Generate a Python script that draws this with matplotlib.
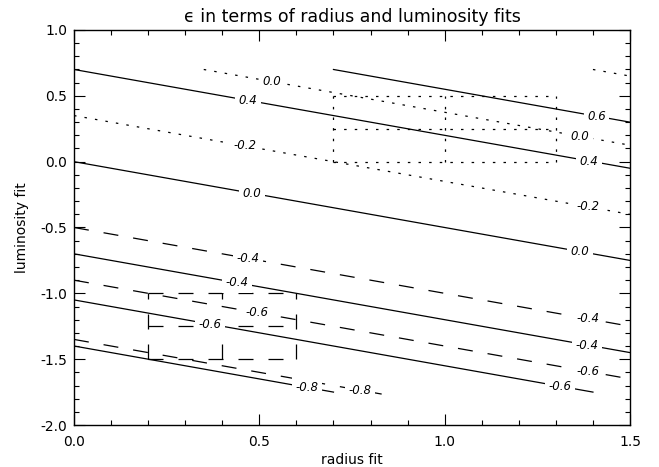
import matplotlib
matplotlib.use('Agg')
import matplotlib.pyplot as plt
from matplotlib.ticker import MultipleLocator

# contour segments (start point, end point, label positions along x)
solid_levels = ['0.6', '0.4', '0.0', '-0.4', '-0.6', '-0.8']
solid_x0 = [0.70, 0.0, 0.0, 0.0, 0.0, 0.0]
solid_y0 = [0.70, 0.70, 0.0, -0.70, -1.05, -1.40]
solid_x1 = [1.5, 1.5, 1.5, 1.5, 1.40, 0.70]
solid_y1 = [0.30, -0.05, -0.75, -1.45, -1.75, -1.75]
solid_label_x = [[1.41], [0.47, 1.39], [0.48, 1.365], [0.44, 1.385], [0.367, 1.31], [0.628]]

dashed_levels = ['-0.4', '-0.6', '-0.8']
dashed_x0 = [0.0, 0.0, 0.0]
dashed_y0 = [-0.50, -0.90, -1.35]
dashed_x1 = [1.5, 1.5, 0.83]
dashed_y1 = [-1.25, -1.65, -1.765]
dashed_label_x = [[0.47, 1.387], [0.493, 1.387], [0.771]]

dotted_levels = ['0.0', '-0.2', '']
dotted_x0 = [0.35, 0.0, 1.40]
dotted_y0 = [0.70, 0.35, 0.70]
dotted_x1 = [1.5, 1.5, 1.5]
dotted_y1 = [0.125, -0.40, 0.65]
dotted_label_x = [[0.533, 1.365], [0.461, 1.387], []]

# the two boxes split into 2x2 cells
dotted_box_x = [0.7, 1.0, 1.3]
dotted_box_y = [0.0, 0.25, 0.5]
dashed_box_x = [0.2, 0.4, 0.6]
dashed_box_y = [-1.5, -1.25, -1.0]

DASHED = (0, (12, 12))
DOTTED = (0, (2, 6.5))

fig = plt.figure(figsize=(6.59, 4.67), dpi=100)
ax = fig.add_axes([0.1123, 0.0899, 0.8437, 0.8459])


def draw_family(levels, x0s, y0s, x1s, y1s, label_xs, ls):
    for lev, x0, y0, x1, y1, lxs in zip(levels, x0s, y0s, x1s, y1s, label_xs):
        ax.plot([x0, x1], [y0, y1], color='black', lw=0.9, linestyle=ls, zorder=2)
        for lx in lxs:
            ly = y0 + (lx - x0) * (y1 - y0) / (x1 - x0)
            ax.text(lx, ly, lev, fontsize=8.5, style='italic', ha='center', va='center',
                    zorder=4, bbox=dict(facecolor='white', edgecolor='none', pad=2.5))


draw_family(solid_levels, solid_x0, solid_y0, solid_x1, solid_y1, solid_label_x, '-')
draw_family(dashed_levels, dashed_x0, dashed_y0, dashed_x1, dashed_y1, dashed_label_x, DASHED)
draw_family(dotted_levels, dotted_x0, dotted_y0, dotted_x1, dotted_y1, dotted_label_x, DOTTED)

for bx, by, ls in [(dotted_box_x, dotted_box_y, DOTTED), (dashed_box_x, dashed_box_y, DASHED)]:
    for x in bx:
        ax.plot([x, x], [by[0], by[-1]], color='black', lw=0.9, linestyle=ls, zorder=1)
    for y in by:
        ax.plot([bx[0], bx[-1]], [y, y], color='black', lw=0.9, linestyle=ls, zorder=1)

ax.set_xlim(0, 1.5)
ax.set_ylim(-2.0, 1.0)
ax.xaxis.set_major_locator(MultipleLocator(0.5))
ax.xaxis.set_minor_locator(MultipleLocator(0.1))
ax.yaxis.set_major_locator(MultipleLocator(0.5))
ax.yaxis.set_minor_locator(MultipleLocator(0.1))
ax.tick_params(which='both', direction='in', top=True, right=True, width=0.8, labelsize=10)
ax.tick_params(which='major', length=8)
ax.tick_params(which='minor', length=3.6)
ax.tick_params(axis='x', pad=7)
ax.tick_params(axis='y', pad=5)
ax.xaxis.set_major_formatter(plt.FuncFormatter(lambda v, p: '%.1f' % v))
ax.yaxis.set_major_formatter(plt.FuncFormatter(lambda v, p: '%.1f' % v))
for s in ax.spines.values():
    s.set_linewidth(1.0)

ax.set_xlabel('radius fit', fontsize=10, labelpad=3)
ax.set_ylabel('luminosity fit', fontsize=10, labelpad=8)
ax.set_title('\u03f5 in terms of radius and luminosity fits', fontsize=12.5, pad=6)

fig.savefig('out.png', dpi=100)
